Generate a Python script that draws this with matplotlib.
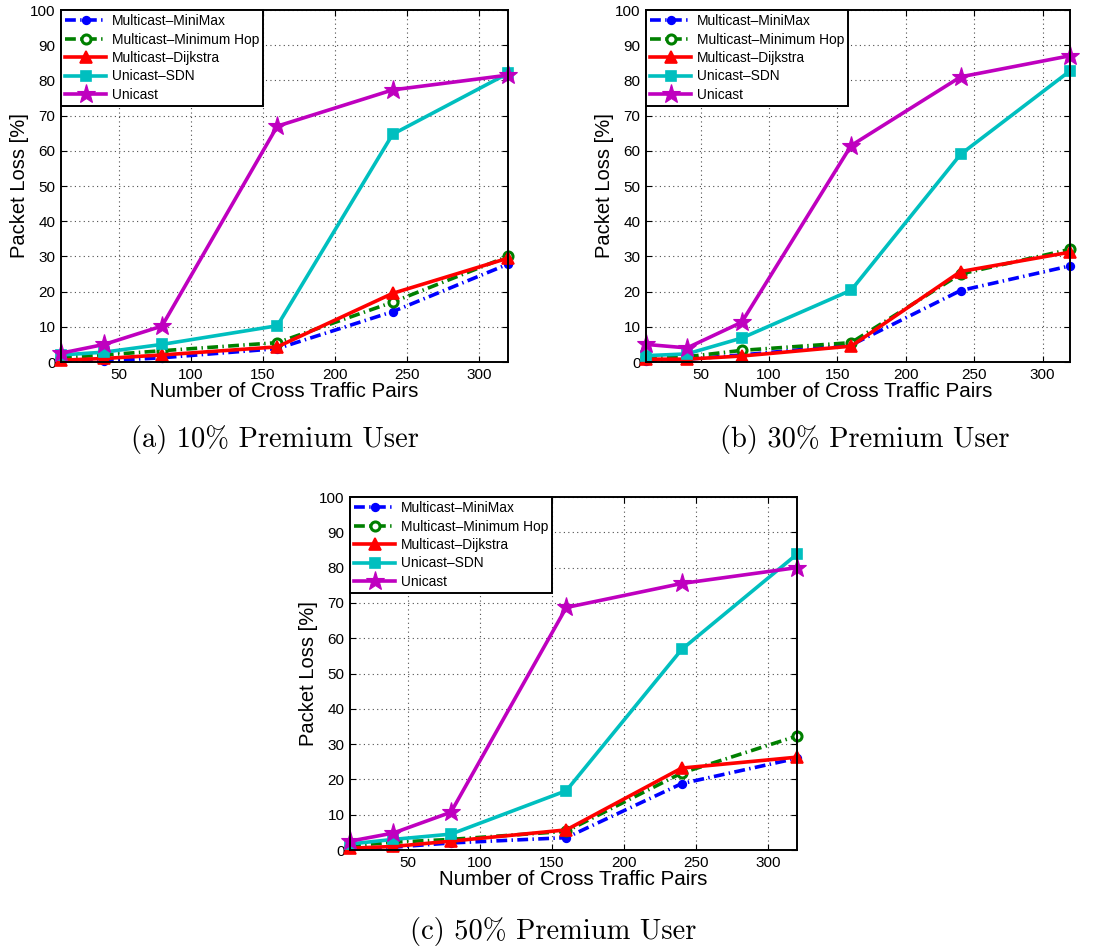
import matplotlib
matplotlib.use("Agg")
import matplotlib.pyplot as plt

# === DADOS ===
pares = [10, 40, 80, 160, 240, 320]
nomes = ["Multicast\u2013MiniMax", "Multicast\u2013Minimum Hop", "Multicast\u2013Dijkstra",
         "Unicast\u2013SDN", "Unicast"]

# (a) 10% premium
a_minimax = [0.3, 0.3, 1.2, 3.8, 14.3, 27.8]
a_minhop = [1.2, 2.0, 3.2, 5.5, 17.0, 30.0]
a_dijkstra = [0.5, 1.0, 2.0, 4.3, 19.5, 29.5]
a_sdn = [2.0, 2.8, 5.0, 10.3, 64.7, 82.0]
a_unicast = [2.5, 5.0, 10.2, 67.0, 77.3, 81.5]

# (b) 30% premium
b_minimax = [0.2, 0.8, 2.0, 4.8, 20.3, 27.3]
b_minhop = [1.3, 1.5, 3.3, 5.5, 25.0, 32.0]
b_dijkstra = [0.8, 0.8, 1.7, 4.5, 25.7, 31.2]
b_sdn = [1.8, 2.3, 6.8, 20.4, 59.0, 82.7]
b_unicast = [5.0, 4.0, 11.3, 61.5, 81.0, 87.0]

# (c) 50% premium
c_minimax = [0.3, 0.8, 2.0, 3.5, 18.8, 26.0]
c_minhop = [1.2, 2.2, 3.0, 5.3, 21.8, 32.3]
c_dijkstra = [0.5, 1.0, 2.5, 5.7, 23.2, 26.3]
c_sdn = [1.7, 3.0, 4.5, 16.8, 56.8, 83.8]
c_unicast = [2.5, 4.8, 10.7, 68.7, 75.5, 80.0]

legendas = ["(a) 10% Premium User", "(b) 30% Premium User", "(c) 50% Premium User"]

# === ESTILOS (tipo MATLAB) ===
traco = (0, (3, 1.2, 0.4, 1.2))
estilos = [
    dict(color="#0000ff", ls=traco, marker="o", ms=5.5, mfc="#0000ff", mew=1.2),
    dict(color="#008000", ls=traco, marker="o", ms=6.5, mfc="white", mew=2.2),
    dict(color="#ff0000", ls="-", marker="^", ms=9, mfc="#ff0000", mew=1.2),
    dict(color="#00bfbf", ls="-", marker="s", ms=6.5, mfc="#00bfbf", mew=1.2),
    dict(color="#bf00bf", ls="-", marker="*", ms=14, mfc="#bf00bf", mew=0.8),
]

plt.rcParams['font.family'] = ['Liberation Sans', 'DejaVu Sans']


def desenha(ax, series):
    for nome, ys, st in zip(nomes, series, estilos):
        ax.plot(pares, ys, color=st["color"], linestyle=st["ls"], linewidth=2.6,
                marker=st["marker"], markersize=st["ms"], markerfacecolor=st["mfc"],
                markeredgecolor=st["color"], markeredgewidth=st["mew"],
                label=nome, clip_on=False)
    ax.set_xlim(10, 320)
    ax.set_ylim(0, 100)
    ax.set_xticks([50, 100, 150, 200, 250, 300])
    ax.set_yticks(range(0, 101, 10))
    ax.grid(True, linestyle=(0, (1, 3)), color="0.3", linewidth=0.8)
    ax.tick_params(direction="in", top=True, right=True, labelsize=11, length=4, pad=4)
    for s in ax.spines.values():
        s.set_linewidth(1.4)
    ax.set_xlabel("Number of Cross Traffic Pairs", fontsize=14.8, labelpad=0)
    ax.set_ylabel("Packet Loss [%]", fontsize=14.5, labelpad=1)
    leg = ax.legend(loc="upper left", fontsize=9.9, numpoints=1, handlelength=3.0,
                    borderaxespad=0, fancybox=False, framealpha=1, edgecolor="black",
                    borderpad=0.3, labelspacing=0.32, handletextpad=0.4)
    leg.get_frame().set_linewidth(1.4)


fig = plt.figure(figsize=(11.02, 9.49), dpi=100)
W, H = 1102, 949

# posições em pixels: esquerda, direita, topo, base
caixas = [(61, 508, 10, 362), (646, 1070, 10, 362), (350, 797, 497, 850)]
dados = [
    [a_minimax, a_minhop, a_dijkstra, a_sdn, a_unicast],
    [b_minimax, b_minhop, b_dijkstra, b_sdn, b_unicast],
    [c_minimax, c_minhop, c_dijkstra, c_sdn, c_unicast],
]
centros = [(275, 440), (865, 440), (553, 932)]

for (l, r, t, b), series, txt, (cx, cy) in zip(caixas, dados, legendas, centros):
    ax = fig.add_axes([l / W, 1 - b / H, (r - l) / W, (b - t) / H])
    desenha(ax, series)
    fig.text(cx / W, 1 - cy / H, txt, ha="center", va="center", fontsize=20.5,
             family=["cmr10", "DejaVu Serif"])

fig.savefig("out.png", dpi=100)
